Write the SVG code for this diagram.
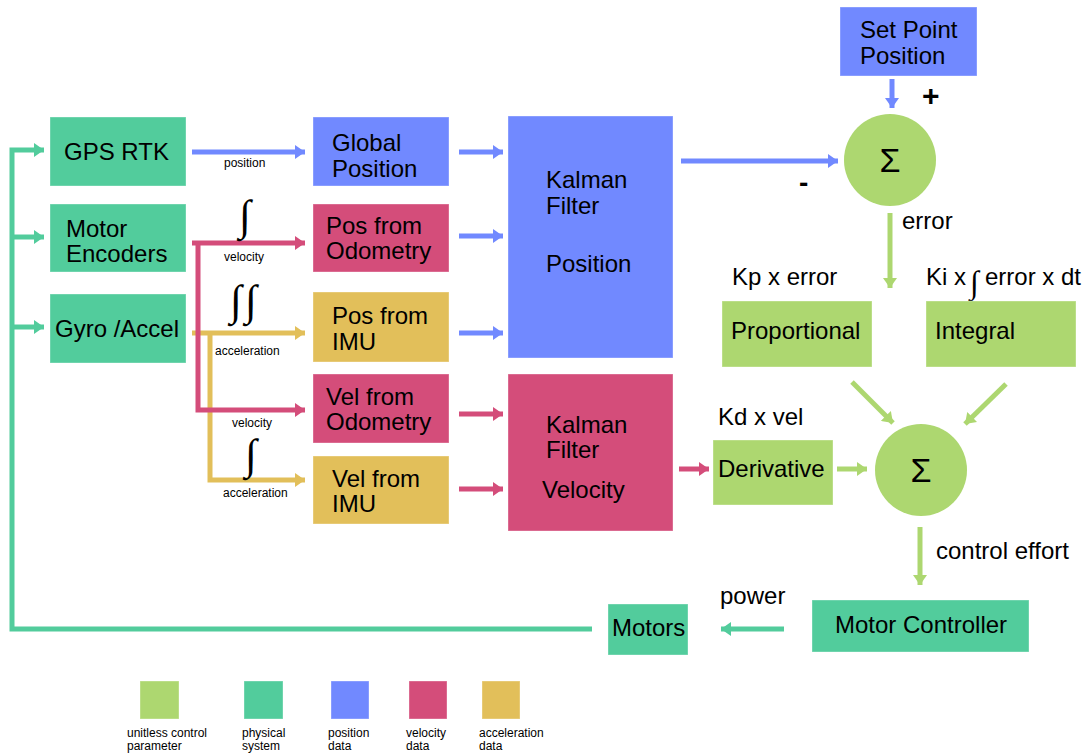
<svg xmlns="http://www.w3.org/2000/svg" width="1087" height="755" viewBox="0 0 1087 755">
<defs>
<style>
text{font-family:"Liberation Sans",Arial,sans-serif;fill:#000}
.t{font-size:24px}
.s{font-size:12px}
.g{fill:#add770}
.p{fill:#52cc9c}
.b{fill:#7189ff}
.v{fill:#d44d7a}
.a{fill:#e2bf5a}
.box{stroke:#ffffff;stroke-opacity:0.35;stroke-width:1}
.int{font-family:"Liberation Serif","DejaVu Serif",serif;font-size:43px}
line,polyline{fill:none;stroke-width:5}
.lg{stroke:#add770}.lp{stroke:#52cc9c}.lb{stroke:#7189ff}.lv{stroke:#d44d7a}.la{stroke:#e2bf5a}
</style>
<marker id="mg" markerUnits="userSpaceOnUse" markerWidth="12" markerHeight="14" refX="10" refY="7" orient="auto"><path d="M0,0 L10,7 L0,14 Z" fill="#add770"/></marker>
<marker id="mp" markerUnits="userSpaceOnUse" markerWidth="12" markerHeight="14" refX="10" refY="7" orient="auto"><path d="M0,0 L10,7 L0,14 Z" fill="#52cc9c"/></marker>
<marker id="mb" markerUnits="userSpaceOnUse" markerWidth="12" markerHeight="14" refX="10" refY="7" orient="auto"><path d="M0,0 L10,7 L0,14 Z" fill="#7189ff"/></marker>
<marker id="mv" markerUnits="userSpaceOnUse" markerWidth="12" markerHeight="14" refX="10" refY="7" orient="auto"><path d="M0,0 L10,7 L0,14 Z" fill="#d44d7a"/></marker>
<marker id="ma" markerUnits="userSpaceOnUse" markerWidth="12" markerHeight="14" refX="10" refY="7" orient="auto"><path d="M0,0 L10,7 L0,14 Z" fill="#e2bf5a"/></marker>
</defs>
<rect width="1087" height="755" fill="#ffffff"/>

<g id="connectors">
<!-- feedback loop -->
<polyline class="lp" points="592,629 12,629 12,150 44,150" marker-end="url(#mp)"/>
<line class="lp" x1="12" y1="237" x2="44" y2="237" marker-end="url(#mp)"/>
<line class="lp" x1="12" y1="327" x2="44" y2="327" marker-end="url(#mp)"/>
<!-- GPS to global -->
<line class="lb" x1="192" y1="152" x2="305" y2="152" marker-end="url(#mb)"/>
<!-- gyro acceleration -->
<line class="la" x1="192" y1="333" x2="305" y2="333" marker-end="url(#ma)"/>
<polyline class="la" points="210,333 210,480 305,480" marker-end="url(#ma)"/>
<!-- encoders velocity -->
<line class="lv" x1="192" y1="243" x2="305" y2="243" marker-end="url(#mv)"/>
<polyline class="lv" points="198,243 198,410 305,410" marker-end="url(#mv)"/>
<!-- to kalman filters -->
<line class="lb" x1="459" y1="152" x2="503" y2="152" marker-end="url(#mb)"/>
<line class="lb" x1="459" y1="236" x2="503" y2="236" marker-end="url(#mb)"/>
<line class="lb" x1="459" y1="333" x2="503" y2="333" marker-end="url(#mb)"/>
<line class="lv" x1="459" y1="414" x2="503" y2="414" marker-end="url(#mv)"/>
<line class="lv" x1="459" y1="489" x2="503" y2="489" marker-end="url(#mv)"/>
<!-- kalman pos to sum -->
<line class="lb" x1="681" y1="161" x2="838" y2="161" marker-end="url(#mb)"/>
<!-- set point to sum -->
<line class="lb" x1="892" y1="79" x2="892" y2="108" marker-end="url(#mb)"/>
<!-- error -->
<line class="lg" x1="890" y1="213" x2="890" y2="288" marker-end="url(#mg)"/>
<!-- P, I to sum2 -->
<line class="lg" x1="852" y1="382" x2="893" y2="423" marker-end="url(#mg)"/>
<line class="lg" x1="1006" y1="384" x2="965" y2="424" marker-end="url(#mg)"/>
<!-- kalman vel to derivative -->
<line class="lv" x1="679" y1="469" x2="709" y2="469" marker-end="url(#mv)"/>
<!-- derivative to sum2 -->
<line class="lg" x1="837" y1="469" x2="867" y2="469" marker-end="url(#mg)"/>
<!-- control effort -->
<line class="lg" x1="920" y1="527" x2="920" y2="585" marker-end="url(#mg)"/>
<!-- power -->
<line class="lp" x1="784" y1="629" x2="721" y2="629" marker-end="url(#mp)"/>
<!-- connector labels -->
<text class="s" x="224" y="167">position</text>
<text class="int" x="239" y="230">∫</text>
<text class="s" x="224" y="261">velocity</text>
<text class="int" x="230" y="315">∫</text>
<text class="int" x="245" y="315">∫</text>
<text class="s" x="215" y="355">acceleration</text>
<text class="s" x="232" y="427">velocity</text>
<text class="int" x="245" y="469">∫</text>
<text class="s" x="223" y="497">acceleration</text>
<text x="922" y="106" style="font-size:30px;font-weight:bold">+</text>
<text x="799" y="192" style="font-size:28px;font-weight:bold">-</text>
<text class="t" x="902" y="229">error</text>
<text class="t" x="732" y="285">Kp x error</text>
<text class="t" x="926" y="285">Ki x</text>
<text class="int" x="970" y="293" style="font-size:32px">∫</text>
<text class="t" x="985" y="285">error x dt</text>
<text class="t" x="718" y="425">Kd x vel</text>
<text class="t" x="936" y="559">control effort</text>
<text class="t" x="720" y="604">power</text>
</g>

<g id="gps"><rect class="p box" x="50" y="117" width="136" height="69"/><text class="t" x="64" y="160">GPS RTK</text></g>
<g id="encoders"><rect class="p box" x="50" y="204" width="136" height="68"/><text class="t" x="66" y="237">Motor</text><text class="t" x="66" y="262">Encoders</text></g>
<g id="gyro"><rect class="p box" x="50" y="294" width="136" height="69"/><text class="t" x="55" y="337">Gyro /Accel</text></g>

<g id="global"><rect class="b box" x="313" y="117" width="136" height="69"/><text class="t" x="332" y="151">Global</text><text class="t" x="332" y="177">Position</text></g>
<g id="posodo"><rect class="v box" x="313" y="204" width="136" height="68"/><text class="t" x="326" y="234">Pos from</text><text class="t" x="326" y="259">Odometry</text></g>
<g id="posimu"><rect class="a box" x="313" y="292" width="136" height="70"/><text class="t" x="332" y="324">Pos from</text><text class="t" x="332" y="350">IMU</text></g>
<g id="velodo"><rect class="v box" x="313" y="374" width="136" height="69"/><text class="t" x="326" y="405">Vel from</text><text class="t" x="326" y="430">Odometry</text></g>
<g id="velimu"><rect class="a box" x="313" y="456" width="136" height="68"/><text class="t" x="332" y="487">Vel from</text><text class="t" x="332" y="512">IMU</text></g>

<g id="kfpos"><rect class="b box" x="508" y="116" width="165" height="242"/><text class="t" x="546" y="188">Kalman</text><text class="t" x="546" y="214">Filter</text><text class="t" x="546" y="272">Position</text></g>
<g id="kfvel"><rect class="v box" x="508" y="374" width="165" height="157"/><text class="t" x="546" y="433">Kalman</text><text class="t" x="546" y="458">Filter</text><text class="t" x="542" y="498">Velocity</text></g>

<g id="setpoint"><rect class="b box" x="840" y="7" width="137" height="69"/><text class="t" x="860" y="38">Set Point</text><text class="t" x="860" y="64">Position</text></g>
<g id="sum1"><circle class="g" cx="890" cy="160" r="46"/><text x="890" y="172" text-anchor="middle" style="font-size:34px">Σ</text></g>
<g id="proportional"><rect class="g box" x="722" y="301" width="150" height="66"/><text class="t" x="731" y="339">Proportional</text></g>
<g id="integral"><rect class="g box" x="926" y="301" width="150" height="66"/><text class="t" x="935" y="339">Integral</text></g>
<g id="derivative"><rect class="g box" x="713" y="440" width="120" height="65"/><text class="t" x="718" y="477">Derivative</text></g>
<g id="sum2"><circle class="g" cx="921" cy="470" r="46"/><text x="921" y="482" text-anchor="middle" style="font-size:34px">Σ</text></g>
<g id="motorcontroller"><rect class="p box" x="812" y="600" width="217" height="52"/><text class="t" x="835" y="633">Motor Controller</text></g>
<g id="motors"><rect class="p box" x="608" y="604" width="80" height="51"/><text class="t" x="612" y="636">Motors</text></g>

<g id="legend">
<rect class="g box" x="140" y="681" width="39" height="38"/>
<rect class="p box" x="244" y="681" width="39" height="38"/>
<rect class="b box" x="331" y="681" width="38" height="38"/>
<rect class="v box" x="409" y="681" width="38" height="38"/>
<rect class="a box" x="482" y="681" width="38" height="38"/>
<text class="s" x="127" y="737">unitless control</text><text class="s" x="127" y="750">parameter</text>
<text class="s" x="242" y="737">physical</text><text class="s" x="242" y="750">system</text>
<text class="s" x="328" y="737">position</text><text class="s" x="328" y="750">data</text>
<text class="s" x="406" y="737">velocity</text><text class="s" x="406" y="750">data</text>
<text class="s" x="479" y="737">acceleration</text><text class="s" x="479" y="750">data</text>
</g>
</svg>
